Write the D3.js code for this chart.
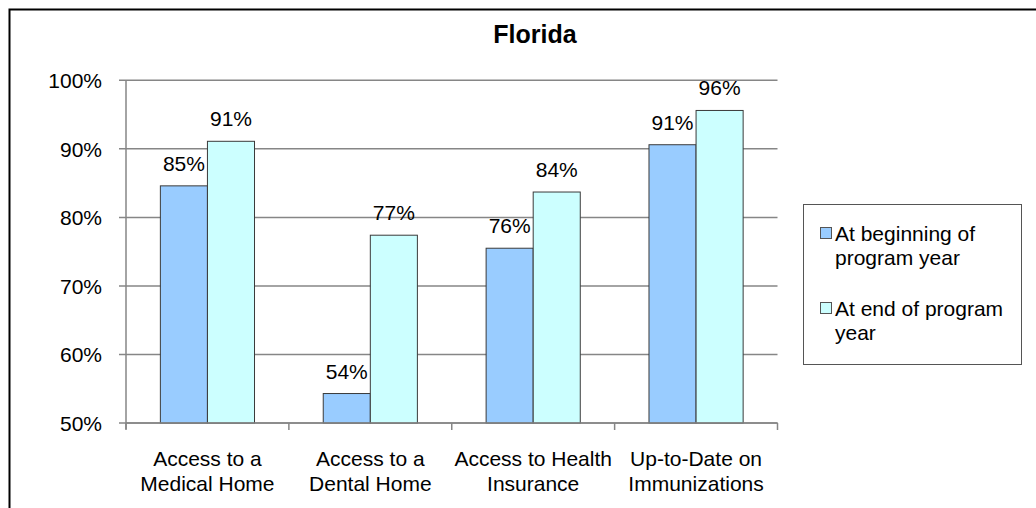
<!DOCTYPE html>
<html>
<head>
<meta charset="utf-8">
<script src="https://cdn.jsdelivr.net/npm/d3@7"></script>
<style>
body { margin: 0; background: #fff; overflow: hidden; }
text { font-family: "Liberation Sans", Arial, sans-serif; }
</style>
</head>
<body>
<svg id="chart"></svg>
<script>
var categories = [['Access to a', 'Medical Home'], ['Access to a', 'Dental Home'], ['Access to Health', 'Insurance'], ['Up-to-Date on', 'Immunizations']]
var seriesNames = [['At beginning of', 'program year'], ['At end of program', 'year']]
var beginning = [84.6, 54.3, 75.5, 90.6]
var ending = [91.1, 77.4, 83.7, 95.6]
var yTicks = [50, 60, 70, 80, 90, 100]
var colors = ['#99ccff', '#ccffff']

var W = 1036, H = 508
var plotL = 126, plotR = 777.5, plotT = 80.3, plotB = 423

var svg = d3.select('#chart').attr('width', W).attr('height', H)

// outer frame (chart area runs past the picture edge on the right and bottom)
svg.append('rect')
    .attr('x', 9.5).attr('y', 9.5)
    .attr('width', 1060).attr('height', 540)
    .attr('fill', 'none').attr('stroke', '#000').attr('stroke-width', 2)

svg.append('text')
    .attr('x', 535).attr('y', 43)
    .attr('text-anchor', 'middle')
    .style('font-size', '25px').style('font-weight', 'bold')
    .text('Florida')

var x0 = d3.scaleBand().domain(d3.range(categories.length)).range([plotL, plotR]).paddingInner(0.422).paddingOuter(0.211)
var x1 = d3.scaleBand().domain([0, 1]).range([0, x0.bandwidth()])
var y = d3.scaleLinear().domain([50, 100]).range([plotB, plotT])

// gridlines
svg.append('g')
    .selectAll('line')
    .data(yTicks)
    .enter()
    .append('line')
    .attr('x1', plotL - 7).attr('x2', plotR)
    .attr('y1', d => y(d)).attr('y2', d => y(d))
    .attr('stroke', '#868686').attr('stroke-width', 1.5)

svg.append('g')
    .selectAll('text')
    .data(yTicks)
    .enter()
    .append('text')
    .attr('x', 102).attr('y', d => y(d) + 8)
    .attr('text-anchor', 'end')
    .style('font-size', '21px')
    .text(d => d + '%')

// y axis line
svg.append('line')
    .attr('x1', plotL).attr('x2', plotL).attr('y1', plotT).attr('y2', plotB + 6)
    .attr('stroke', '#868686').attr('stroke-width', 1.5)

// x tick marks at category edges
var edges = d3.range(categories.length + 1).map(i => plotL + i * x0.step())
svg.append('g')
    .selectAll('line')
    .data(edges)
    .enter()
    .append('line')
    .attr('x1', d => d).attr('x2', d => d)
    .attr('y1', plotB).attr('y2', plotB + 7)
    .attr('stroke', '#868686').attr('stroke-width', 1.5)

var series = [beginning, ending]
series.forEach(function (vals, s) {
    var g = svg.append('g')
    g.selectAll('rect')
        .data(vals)
        .enter()
        .append('rect')
        .attr('x', (d, i) => x0(i) + x1(s))
        .attr('y', d => y(d))
        .attr('width', x1.bandwidth())
        .attr('height', d => y(50) - y(d))
        .attr('fill', colors[s])
        .attr('stroke', '#3a3a3a').attr('stroke-width', 1)
    g.selectAll('text')
        .data(vals)
        .enter()
        .append('text')
        .attr('x', (d, i) => x0(i) + x1(s) + x1.bandwidth() / 2)
        .attr('y', d => y(d) - 15)
        .attr('text-anchor', 'middle')
        .style('font-size', '21px')
        .text(d => Math.round(d) + '%')
})

// x axis baseline
svg.append('line')
    .attr('x1', plotL).attr('x2', plotR).attr('y1', plotB).attr('y2', plotB)
    .attr('stroke', '#868686').attr('stroke-width', 1.5)

// category labels
svg.append('g')
    .selectAll('text')
    .data(categories)
    .enter()
    .append('text')
    .attr('x', (d, i) => x0(i) + x0.bandwidth() / 2)
    .attr('y', 466)
    .attr('text-anchor', 'middle')
    .style('font-size', '21px')
    .each(function (d) {
        var t = d3.select(this)
        d.forEach((line, k) => {
            t.append('tspan').attr('x', t.attr('x')).attr('dy', k == 0 ? 0 : 25).text(line)
        })
    })

// legend
var lg = svg.append('g')
lg.append('rect')
    .attr('x', 803.5).attr('y', 204.5).attr('width', 218).attr('height', 160)
    .attr('fill', '#fff').attr('stroke', '#555').attr('stroke-width', 1)
seriesNames.forEach(function (name, s) {
    var yy = 241 + s * 75
    lg.append('rect')
        .attr('x', 820.5).attr('y', yy - 13.5).attr('width', 11).attr('height', 11)
        .attr('fill', colors[s]).attr('stroke', '#555').attr('stroke-width', 1)
    var t = lg.append('text').attr('x', 835).attr('y', yy).style('font-size', '21px')
    name.forEach((line, k) => {
        t.append('tspan').attr('x', 835).attr('dy', k == 0 ? 0 : 24).text(line)
    })
})
</script>
</body>
</html>
